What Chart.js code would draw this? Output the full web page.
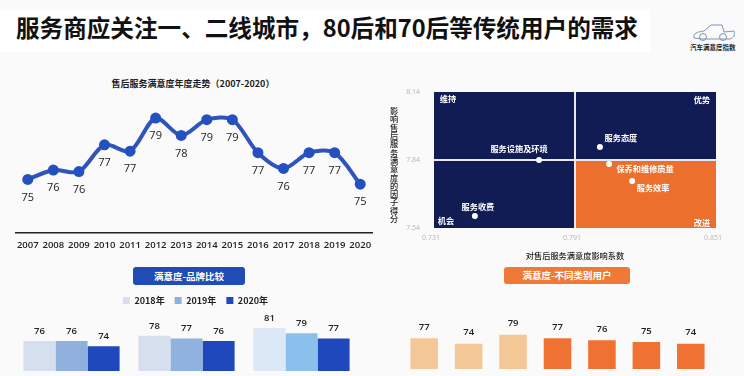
<!DOCTYPE html>
<html lang="zh">
<head>
<meta charset="utf-8">
<title>售后服务满意度</title>
<script src="https://cdn.jsdelivr.net/npm/chart.js@4/dist/chart.umd.min.js"></script>
<style>
  html, body { margin: 0; padding: 0; }
  body { width: 744px; height: 376px; overflow: hidden; position: relative; background: #fafafa; font-family: "Noto Sans CJK SC", sans-serif; color: #1c1c1c; }
  canvas { position: absolute; }
  .text { position: absolute; white-space: nowrap; }
  #titleStrip { left: 0; top: 10px; width: 650px; height: 42px; background: #fff; position: absolute; }
  #mainTitle { left: 16px; top: 12px; font-size: 23.6px; font-weight: 700; line-height: 30px; color: #111; }
  #lineTitle { left: 3px; width: 380px; text-align: center; top: 77px; font-size: 9px; font-weight: 700; line-height: 14px; }
  .pill { position: absolute; color: #fff; font-size: 9.5px; font-weight: 700; text-align: center; border-radius: 3px; }
  #pillBrand { left: 133px; top: 267px; width: 112px; height: 18px; line-height: 18px; background: #1f4db5; }
  #pillUser { left: 504px; top: 267px; width: 126px; height: 17px; line-height: 17px; background: #ee7a36; }
  #logoText { left: 690px; top: 43px; font-size: 6.5px; font-weight: 700; line-height: 8px; }
  #logo { position: absolute; left: 692px; top: 22px; }
</style>
</head>
<body>
<div id="titleStrip"></div>
<div class="text" id="mainTitle">服务商应关注一、二线城市，80后和70后等传统用户的需求</div>
<svg id="logo" width="44" height="20" viewBox="0 0 44 20" fill="none" stroke="#7f93b5" stroke-width="1">
  <path d="M2 16 C1 11 5 10 12 9 L19 3 L30 3 L32 10 L42 9 C43 13 42 16 38 17 L10 17 Z"/>
  <circle cx="11" cy="15" r="3.5"/><circle cx="31" cy="15" r="3.5"/>
</svg>
<div class="text" id="logoText">汽车满意度指数</div>
<div class="text" id="lineTitle">售后服务满意度年度走势（2007-2020）</div>
<div class="pill" id="pillBrand">满意度-品牌比较</div>
<div class="pill" id="pillUser">满意度-不同类别用户</div>

<canvas id="lineChart" width="358" height="160" style="left:15px;top:100px"></canvas>
<canvas id="matrixChart" width="355" height="181" style="left:385px;top:84px"></canvas>
<canvas id="brandChart" width="345" height="85" style="left:14px;top:286px"></canvas>
<canvas id="userChart" width="311" height="60" style="left:402px;top:309px"></canvas>

<script>
const FONT = '"Noto Sans CJK SC", sans-serif';
const DIGITS = '"Open Sans", sans-serif';

// Yearly trend
const years = ['2007', '2008', '2009', '2010', '2011', '2012', '2013', '2014', '2015', '2016', '2017', '2018', '2019', '2020'];
const yearScores = [75.2, 75.8, 75.7, 77.4, 77.0, 79.1, 78.0, 79.0, 79.0, 76.9, 75.9, 76.9, 76.9, 74.9];

// Factor matrix
const factorNames = ['服务设施及环境', '服务态度', '保养和维修质量', '服务效率', '服务收费'];
const factorCoef = [0.7757, 0.8016, 0.8055, 0.8153, 0.7484];
const factorScore = [7.84, 7.897, 7.822, 7.747, 7.593];
const coefTicks = [0.731, 0.791, 0.851];
const scoreTicks = [7.54, 7.84, 8.14];
const scoreTitle = '影响售后服务满意度的因子得分';

// Brand comparison
const brandGroups = ['A', 'B', 'C'];
const brand2018 = [76, 78, 81];
const brand2019 = [76, 77, 79];
const brand2020 = [74, 76, 77];

// User types
const userTypes = ['A', 'B', 'C', 'D', 'E', 'F', 'G'];
const userScores = [77, 74, 79, 77, 76, 75, 74];

// Where each factor label sits around its point
const factorLabelShift = [[-20, -11], [21, -9], [36, 5], [21, 7], [3, -9]];

function drawText(ctx, text, x, y, font, color) {
  ctx.save();
  ctx.font = font;
  ctx.fillStyle = color;
  ctx.textAlign = 'center';
  ctx.textBaseline = 'middle';
  ctx.fillText(text, x, y);
  ctx.restore();
}

// Value labels for every bar / point of a chart
function valueLabels(offset, font) {
  return {
    id: 'valueLabels',
    afterDatasetsDraw(chart) {
      chart.data.datasets.forEach((ds, i) => {
        chart.getDatasetMeta(i).data.forEach((el, j) => {
          drawText(chart.ctx, String(Math.round(ds.data[j])), el.x, el.y + offset, font, '#222');
        });
      });
    }
  };
}

// Fixed axis height, and no room kept for the tick labels at the ends
function fitX(h) {
  return scale => {
    scale.height = h;
    scale.paddingLeft = 0;
    scale.paddingRight = 0;
  };
}

function fitY(w) {
  return scale => {
    scale.width = w;
    scale.paddingTop = 0;
    scale.paddingBottom = 0;
  };
}

Chart.defaults.animation = false;
Chart.defaults.responsive = false;
Chart.defaults.font.family = FONT;

new Chart(document.getElementById('lineChart'), {
  type: 'line',
  data: {
    labels: years,
    datasets: [{
      data: yearScores,
      borderColor: '#2f55bd',
      borderWidth: 4,
      tension: 0.3,
      pointRadius: 5.5,
      pointBackgroundColor: '#2450c0',
      pointBorderWidth: 0
    }]
  },
  options: {
    layout: { padding: 0, autoPadding: false },
    plugins: { legend: { display: false }, tooltip: { enabled: false } },
    scales: {
      x: {
        offset: true,
        grid: { display: false, drawTicks: false },
        border: { color: '#222', width: 1.5 },
        ticks: { color: '#222', padding: 7, maxRotation: 0, autoSkip: false, font: { family: DIGITS, size: 9.5, weight: '600' } },
        afterFit: fitX(27)
      },
      y: { display: false, min: 71.8, max: 80.25 }
    }
  },
  plugins: [valueLabels(18, '11px ' + DIGITS)]
});

// Draws the four coloured quadrants behind the points
const quadrants = {
  id: 'quadrants',
  beforeDatasetsDraw(chart) {
    const { ctx, chartArea: a, scales } = chart;
    const midX = scales.x.getPixelForValue(coefTicks[1]);
    const midY = scales.y.getPixelForValue(scoreTicks[1]);
    ctx.save();
    ctx.fillStyle = '#111c55';
    ctx.fillRect(a.left, a.top, a.width, a.height);
    ctx.fillStyle = '#ec6f2d';
    ctx.fillRect(midX, midY, a.right - midX, a.bottom - midY);
    ctx.strokeStyle = '#e9e9f2';
    ctx.lineWidth = 2;
    ctx.beginPath();
    ctx.moveTo(midX, a.top);
    ctx.lineTo(midX, a.bottom);
    ctx.moveTo(a.left, midY);
    ctx.lineTo(a.right, midY);
    ctx.stroke();
    ctx.restore();
  },
  afterDatasetsDraw(chart) {
    const { ctx, chartArea: a } = chart;
    const font = '700 8.2px ' + FONT;
    drawText(ctx, '维持', a.left + 14, a.top + 7, font, '#fff');
    drawText(ctx, '优势', a.right - 14, a.top + 8, font, '#fff');
    drawText(ctx, '机会', a.left + 12, a.bottom - 7, font, '#fff');
    drawText(ctx, '改进', a.right - 14, a.bottom - 5, font, '#fff');
    chart.getDatasetMeta(0).data.forEach((el, i) => {
      const shift = factorLabelShift[i];
      drawText(ctx, factorNames[i], el.x + shift[0], el.y + shift[1], font, '#fff');
    });
    // Upright vertical axis title, one character at a time
    Array.from(scoreTitle).forEach((ch, i) => {
      drawText(ctx, ch, 9, a.top + 19 + i * 8.3, '500 8.2px ' + FONT, '#222');
    });
  }
};

new Chart(document.getElementById('matrixChart'), {
  type: 'scatter',
  data: {
    datasets: [{
      data: factorCoef.map((c, i) => ({ x: c, y: factorScore[i] })),
      pointRadius: 3,
      pointBackgroundColor: '#fff',
      pointBorderWidth: 0
    }]
  },
  options: {
    layout: { padding: { top: 8, right: 24 }, autoPadding: false },
    plugins: { legend: { display: false }, tooltip: { enabled: false } },
    scales: {
      x: {
        min: coefTicks[0],
        max: coefTicks[2],
        grid: { display: false, drawTicks: false },
        border: { display: false },
        afterBuildTicks: scale => { scale.ticks = coefTicks.map(v => ({ value: v })); },
        ticks: { color: '#b5b5b5', padding: 6, maxRotation: 0, labelOffset: -3, callback: v => v.toFixed(3), font: { family: DIGITS, size: 7 } },
        title: { display: true, text: '对售后服务满意度影响系数', color: '#222', padding: { top: 4, bottom: 4 }, font: { size: 8.2, weight: '500' } },
        afterFit: fitX(37)
      },
      y: {
        min: scoreTicks[0],
        max: scoreTicks[2],
        grid: { display: false, drawTicks: false },
        border: { display: false },
        afterBuildTicks: scale => { scale.ticks = scoreTicks.map(v => ({ value: v })); },
        ticks: { color: '#b5b5b5', padding: 14, callback: v => v.toFixed(2), font: { family: DIGITS, size: 7 } },
        afterFit: fitY(49)
      }
    }
  },
  plugins: [quadrants]
});

// Nudges the native legend right, the bars stay where they are
const shiftLegend = {
  id: 'shiftLegend',
  afterLayout(chart) {
    chart.legend.left += 18;
  }
};

new Chart(document.getElementById('brandChart'), {
  type: 'bar',
  data: {
    labels: brandGroups,
    datasets: [
      { label: '2018年', data: brand2018, backgroundColor: ['#d5dfee', '#d5dfee', '#dce8f5'] },
      { label: '2019年', data: brand2019, backgroundColor: ['#8fb0dc', '#8fb2de', '#8cc0ec'] },
      { label: '2020年', data: brand2020, backgroundColor: '#1f48bd' }
    ]
  },
  options: {
    categoryPercentage: 0.8366,
    barPercentage: 1,
    plugins: {
      tooltip: { enabled: false },
      legend: {
        labels: { boxWidth: 7, boxHeight: 7, padding: 10, color: '#222', font: { size: 9, weight: '700' } }
      }
    },
    scales: {
      x: { display: false },
      y: { display: false, min: 64.5, max: 86 }
    }
  },
  plugins: [valueLabels(-10, '600 9.5px ' + DIGITS), shiftLegend]
});

new Chart(document.getElementById('userChart'), {
  type: 'bar',
  data: {
    labels: userTypes,
    datasets: [{
      data: userScores,
      backgroundColor: ['#f4c896', '#f4c896', '#f4c896', '#f07232', '#f07232', '#f07232', '#f07232']
    }]
  },
  options: {
    categoryPercentage: 0.62,
    barPercentage: 1,
    plugins: { legend: { display: false }, tooltip: { enabled: false } },
    scales: {
      x: { display: false },
      y: { display: false, min: 60, max: 93.3 }
    }
  },
  plugins: [valueLabels(-11, '600 9.5px ' + DIGITS)]
});
</script>
</body>
</html>
